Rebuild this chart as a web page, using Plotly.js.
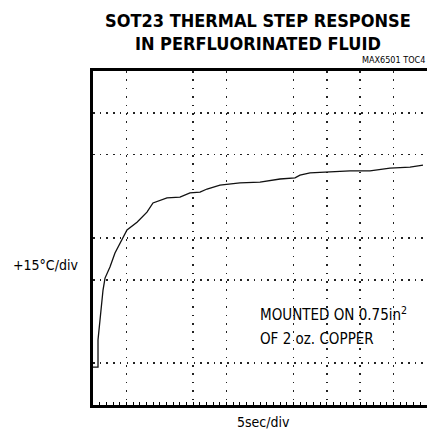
<!DOCTYPE html>
<html>
<head>
<meta charset="utf-8">
<script src="https://cdn.plot.ly/plotly-3.0.1.min.js"></script>
<style>html,body{margin:0;padding:0;background:#fff;overflow:hidden;width:427px;height:435px;}#chart{position:fixed;top:0;left:0;width:427px;height:435px;overflow:hidden;}</style>
</head>
<body>
<div id="chart"></div>
<script>
// time in seconds (5 s/div), temperature rise in °C (15 °C/div)
const timeSec = [0, 0.75, 0.75, 1.05, 1.5, 1.8, 2.54, 3.29, 4.49, 5.09, 6.59, 8.08, 8.98, 11.08, 13.02, 14.52, 16.02, 17.07, 19.01, 22.0, 25.0, 28.0, 30.24, 30.99, 32.49, 35.48, 38.47, 41.47, 44.46, 47.46, 49.4];
const tempC   = [13.6, 13.6, 23.4, 30.5, 41.3, 45.6, 49.6, 54.6, 60.4, 62.9, 65.7, 69.3, 72.6, 74.4, 74.7, 76.2, 76.5, 77.6, 79.0, 79.8, 80.1, 81.2, 81.6, 82.6, 83.4, 83.7, 84.1, 84.1, 85.1, 85.5, 86.2];
const xGrid = [5, 15, 20, 30, 35, 40, 45];
const yGrid = [15, 45, 60, 90, 105];
const titleText = "SOT23 THERMAL STEP RESPONSE<br>IN PERFLUORINATED FLUID";
const noteLine1 = "MOUNTED ON 0.75in<sup>2</sup>";
const noteLine2 = "OF 2 oz. COPPER";

const narrow = "'DejaVu Sans Condensed', 'Liberation Sans Narrow', 'Liberation Sans', sans-serif";

const trace = {
  x: timeSec, y: tempC, type: 'scatter', mode: 'lines',
  line: {color: '#111', width: 1.3}, hoverinfo: 'skip'
};

const layout = {
  width: 427, height: 435,
  margin: {l: 93, r: 0, t: 71, b: 30},
  paper_bgcolor: '#fff', plot_bgcolor: '#fff',
  showlegend: false,
  xaxis: {
    range: [0, 50], tickmode: 'array', tickvals: xGrid, showticklabels: false,
    showgrid: true, gridcolor: '#222', gridwidth: 1.6, griddash: '1.6px,6.8px',
    zeroline: false, showline: true, linecolor: '#000', linewidth: 3, mirror: true,
    ticks: 'inside', ticklen: 3, tickcolor: '#000', tickwidth: 1,
    minor: {dtick: 1, tick0: 0, ticks: 'inside', ticklen: 3, tickcolor: '#000', tickwidth: 1, showgrid: false},
    fixedrange: true
  },
  yaxis: {
    range: [0, 120], tickmode: 'array', tickvals: yGrid, showticklabels: false,
    showgrid: true, gridcolor: '#222', gridwidth: 1.6, griddash: '1.6px,5.1px',
    zeroline: false, showline: true, linecolor: '#000', linewidth: 3, mirror: false,
    ticks: '', fixedrange: true
  },
  annotations: [
    {text: titleText, xref: 'paper', yref: 'paper', x: 0.495, y: 1.19, xanchor: 'center', yanchor: 'top', align: 'center',
     showarrow: false, font: {family: narrow, size: 18, color: '#000', weight: 'bold'}},
    {text: 'MAX6501 TOC4', xref: 'paper', yref: 'paper', x: 1, y: 1.012, xanchor: 'right', yanchor: 'bottom',
     showarrow: false, font: {family: narrow, size: 9, color: '#000'}},
    {text: '+15°C/div', xref: 'paper', yref: 'paper', x: -0.039, y: 0.42, xanchor: 'right', yanchor: 'middle',
     showarrow: false, font: {family: narrow, size: 14, color: '#000'}},
    {text: '5sec/div', xref: 'paper', yref: 'paper', x: 0.51, y: -0.02, xanchor: 'center', yanchor: 'top',
     showarrow: false, font: {family: narrow, size: 14, color: '#000'}},
    {text: noteLine1, xref: 'paper', yref: 'paper', x: 0.494, y: 0.272, xanchor: 'left', yanchor: 'middle', align: 'left',
     showarrow: false, font: {family: narrow, size: 15, color: '#000'}},
    {text: noteLine2, xref: 'paper', yref: 'paper', x: 0.494, y: 0.198, xanchor: 'left', yanchor: 'middle', align: 'left',
     showarrow: false, font: {family: narrow, size: 15, color: '#000'}}
  ]
};

Plotly.newPlot('chart', [trace], layout, {staticPlot: true, displayModeBar: false});
</script>
</body>
</html>
